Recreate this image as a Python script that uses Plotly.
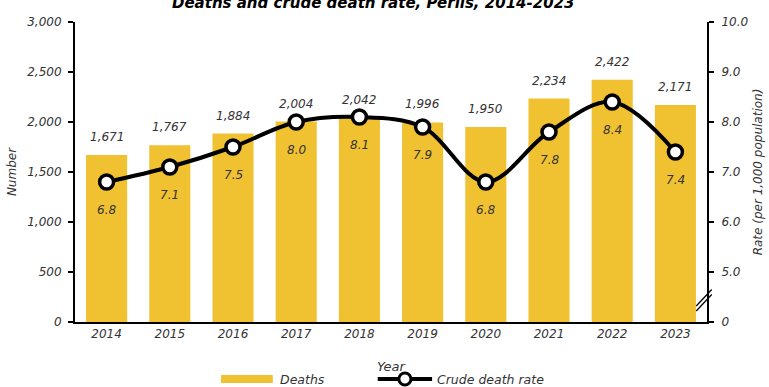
import plotly.graph_objects as go

years = [2014, 2015, 2016, 2017, 2018, 2019, 2020, 2021, 2022, 2023]
deaths = [1671, 1767, 1884, 2004, 2042, 1996, 1950, 2234, 2422, 2171]
rates = [6.8, 7.1, 7.5, 8.0, 8.1, 7.9, 6.8, 7.8, 8.4, 7.4]

left_ticks = [0, 500, 1000, 1500, 2000, 2500, 3000]
right_tickvals = [4, 5, 6, 7, 8, 9, 10]
right_ticktext = ["0", "5.0", "6.0", "7.0", "8.0", "9.0", "10.0"]

BAR = "#F0C131"
TXT = "#333333"
FONT = "Century Gothic, DejaVu Sans, sans-serif"

fig = go.Figure()
fig.add_trace(go.Bar(x=years, y=deaths, marker=dict(color=BAR, line=dict(width=0)),
                     width=0.65, name="Deaths", showlegend=False))
fig.add_trace(go.Scatter(x=years, y=rates, yaxis="y2", mode="lines+markers",
                         line=dict(color="black", width=4, shape="spline", smoothing=1),
                         marker=dict(size=14, color="white", line=dict(color="black", width=3.5)),
                         name="Crude death rate", showlegend=False))

ann = []
for yr, d in zip(years, deaths):
    ann.append(dict(x=yr, y=d, xref="x", yref="y", text=f"{d:,}", showarrow=False,
                    yshift=18, font=dict(size=12, color=TXT, family=FONT, style="italic")))
for yr, r in zip(years, rates):
    ann.append(dict(x=yr, y=r, xref="x", yref="y2", text=f"{r:.1f}", showarrow=False,
                    yshift=-28, font=dict(size=12, color=TXT, family=FONT, style="italic")))

# title (partially cut at top as in reference)
ann.append(dict(x=0.472, y=1, xref="paper", yref="paper", yanchor="middle", yshift=19,
                text="<b>Deaths and crude death rate, Perlis, 2014-2023</b>", showarrow=False,
                font=dict(size=15, color="black", family=FONT, style="italic")))

# custom legend
leg_y = -0.19
ann.append(dict(x=0.321, y=leg_y, xref="paper", yref="paper", xanchor="left", yanchor="middle",
                text="Deaths", showarrow=False,
                font=dict(size=12.5, color=TXT, family=FONT, style="italic")))
ann.append(dict(x=0.569, y=leg_y, xref="paper", yref="paper", xanchor="left", yanchor="middle",
                text="Crude death rate", showarrow=False,
                font=dict(size=12.5, color=TXT, family=FONT, style="italic")))

shapes = [
    dict(type="rect", xref="paper", yref="paper", x0=0.231, x1=0.313,
         y0=leg_y - 0.013, y1=leg_y + 0.013, fillcolor=BAR, line=dict(width=0)),
    dict(type="line", xref="paper", yref="paper", x0=0.479, x1=0.565, y0=leg_y, y1=leg_y,
         line=dict(color="black", width=4)),
    dict(type="circle", xref="paper", yref="paper", x0=0.522 - 0.0095, x1=0.522 + 0.0095,
         y0=leg_y - 0.02, y1=leg_y + 0.02, fillcolor="white", line=dict(color="black", width=3)),
    # axis break marks on right axis
    dict(type="line", xref="paper", yref="y2", x0=0.983, x1=1.0075, y0=4.22, y1=4.55,
         line=dict(color="black", width=1.3)),
    dict(type="line", xref="paper", yref="y2", x0=0.983, x1=1.0075, y0=4.32, y1=4.65,
         line=dict(color="black", width=1.3)),
]

fig.update_layout(
    width=769, height=387,
    margin=dict(l=75, r=62, t=22, b=65, autoexpand=False),
    paper_bgcolor="white", plot_bgcolor="white",
    font=dict(family=FONT, size=12, color=TXT, style="italic"),
    annotations=ann, shapes=shapes,
    xaxis=dict(type="linear", range=[min(years) - 0.5, max(years) + 0.5], tickvals=years,
               showline=True, linecolor="black", linewidth=2, ticks="",
               showgrid=False, zeroline=False, automargin=False,
               tickfont=dict(size=12, color=TXT, style="italic"),
               title=dict(text="Year", font=dict(size=13, color=TXT, style="italic"), standoff=21)),
    yaxis=dict(range=[0, 3000], tickvals=left_ticks, tickformat=",", showline=True,
               linecolor="black", linewidth=2, ticks="outside", ticklen=5, tickwidth=1.5,
               tickcolor="black", showgrid=False, zeroline=False, automargin=False,
               ticklabelstandoff=4,
               tickfont=dict(size=12, color=TXT, style="italic"),
               title=dict(text="Number", font=dict(size=12, color=TXT, style="italic"), standoff=8)),
    yaxis2=dict(range=[4, 10], overlaying="y", side="right", tickvals=right_tickvals,
                ticktext=right_ticktext, showline=True, linecolor="black", linewidth=2,
                ticks="outside", ticklen=5, tickwidth=1.5, tickcolor="black", showgrid=False,
                zeroline=False, automargin=False, ticklabelstandoff=5,
                tickfont=dict(size=12, color=TXT, style="italic"),
                title=dict(text="Rate (per 1,000 population)",
                           font=dict(size=12, color=TXT, style="italic"), standoff=6)),
)

fig.write_html("out.html", config={"displayModeBar": False},
               post_script="document.body.style.margin='0';")
